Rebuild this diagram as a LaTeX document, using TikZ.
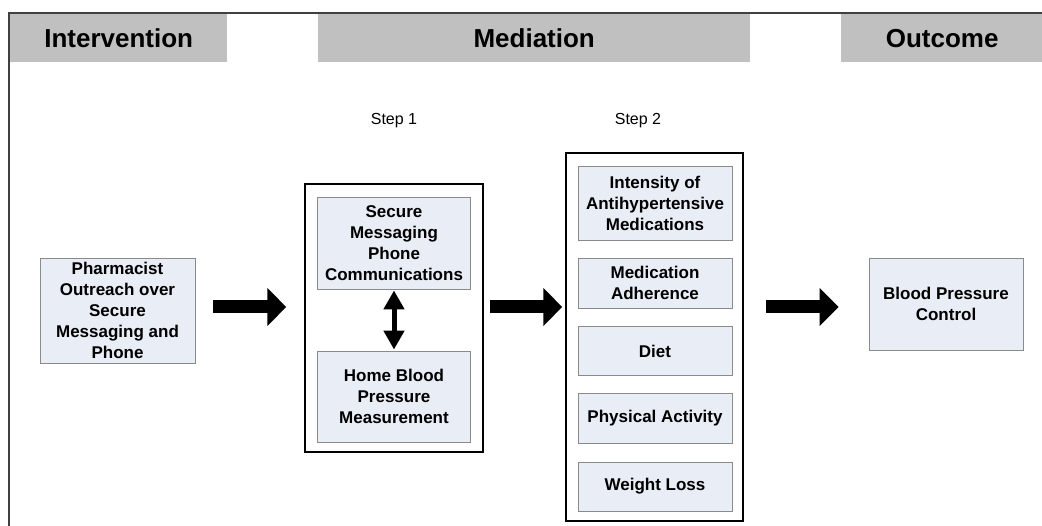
\documentclass[tikz,border=0pt]{standalone}
\usepackage{fontspec}
\setmainfont{Liberation Sans}
\usetikzlibrary{arrows.meta}
\definecolor{boxfill}{HTML}{E8EDF6}
\definecolor{boxline}{HTML}{8A8A8A}
\definecolor{headfill}{HTML}{C0C0C0}
\definecolor{frameline}{HTML}{404040}
\tikzset{
  x=1pt, y=-1pt,
  headbox/.style={fill=headfill, draw=none, inner sep=0pt, anchor=north west},
  headtext/.style={inner sep=0pt, font=\fontsize{26}{30}\selectfont\bfseries},
  itembox/.style={fill=boxfill, draw=boxline, line width=0.9pt, inner sep=0pt,
    align=center, font=\fontsize{17}{21}\selectfont\bfseries},
  groupbox/.style={draw=black, line width=1.5pt, inner sep=0pt, fill=none},
  steplabel/.style={inner sep=0pt, font=\fontsize{16}{19}\selectfont},
  bigarrow/.style={line width=13pt, -{Triangle[length=19pt,width=37pt]}},
  dblarrow/.style={line width=5pt, {Triangle[length=19pt,width=20pt]}-{Triangle[length=19pt,width=20pt]}},
}
\begin{document}
\begin{tikzpicture}
\useasboundingbox (0,0) rectangle (1042,526);
% frame
\draw[frameline, line width=2pt] (9,527) -- (9,13) -- (1043,13);
% headers
\node[headbox, minimum width=217pt, minimum height=48pt] (hint) at (10,14) {};
\node[headtext] (hintt) at (hint.center) {Intervention};
\node[headbox, minimum width=432pt, minimum height=48pt] (hmed) at (318,14) {};
\node[headtext] (hmedt) at (hmed.center) {Mediation};
\node[headbox, minimum width=202pt, minimum height=48pt] (hout) at (841,14) {};
\node[headtext] (houtt) at (hout.center) {Outcome};
% step labels
\node[steplabel] (s1) at (394,121) {Step 1};
\node[steplabel] (s2) at (638,121) {Step 2};
% group boxes
\node[groupbox, minimum width=178pt, minimum height=268pt] (step1) at (394,318) {};
\node[groupbox, minimum width=177pt, minimum height=368pt] (step2) at (654.5,337) {};
% items
\node[itembox, minimum width=155pt, minimum height=105pt] (pharm) at (117.5,310.5)
  {Pharmacist\\Outreach over\\Secure\\Messaging and\\Phone};
\node[itembox, minimum width=153pt, minimum height=92pt] (secure) at (394,243)
  {Secure\\Messaging\\Phone\\Communications};
\node[itembox, minimum width=153pt, minimum height=91pt] (home) at (394,396.5)
  {Home Blood\\Pressure\\Measurement};
\node[itembox, minimum width=154pt, minimum height=74pt] (inten) at (655,203)
  {Intensity of\\Antihypertensive\\Medications};
\node[itembox, minimum width=154pt, minimum height=50pt] (adh) at (655,283)
  {Medication\\Adherence};
\node[itembox, minimum width=154pt, minimum height=49pt] (diet) at (655,351)
  {Diet};
\node[itembox, minimum width=154pt, minimum height=50pt] (phys) at (655,418)
  {Physical Activity};
\node[itembox, minimum width=154pt, minimum height=49pt] (weight) at (655,486.5)
  {Weight Loss};
\node[itembox, minimum width=154pt, minimum height=92pt] (bpc) at (946,304)
  {Blood Pressure\\Control};
% arrows
\coordinate (ay) at (0,307);
\draw[bigarrow] ([xshift=18pt]pharm.east |- ay) -- ([xshift=-18pt]step1.west |- ay);
\draw[bigarrow] ([xshift=6pt]step1.east |- ay) -- ([xshift=-3pt]step2.west |- ay);
\draw[bigarrow] ([xshift=22pt]step2.east |- ay) -- ([xshift=-30pt]bpc.west |- ay);
\draw[dblarrow] ([yshift=-1pt]secure.south) -- ([yshift=1pt]home.north);
\end{tikzpicture}
\end{document}
